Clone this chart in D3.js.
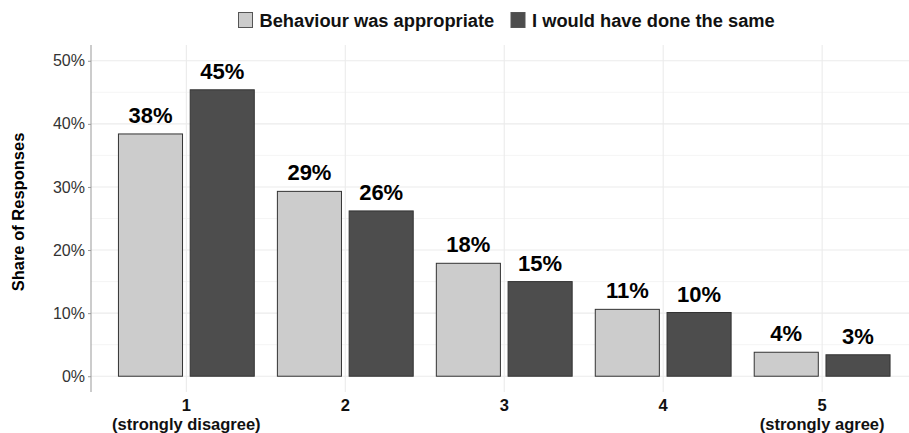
<!DOCTYPE html>
<html>
<head>
<meta charset="utf-8">
<script src="https://cdn.jsdelivr.net/npm/d3@7"></script>
<style>
  body { margin: 0; background: #fff; }
  svg { display: block; font-family: "Liberation Sans", Arial, sans-serif; }
</style>
</head>
<body>
<script>
// data
var categories = ["1", "2", "3", "4", "5"];
var categorySubLabels = ["(strongly disagree)", "", "", "", "(strongly agree)"];
var seriesNames = ["Behaviour was appropriate", "I would have done the same"];
var appropriate = [0.384, 0.293, 0.179, 0.106, 0.038];
var doneSame = [0.454, 0.262, 0.150, 0.101, 0.034];
var yTicks = [0, 0.1, 0.2, 0.3, 0.4, 0.5];
var yMinorTicks = [0.05, 0.15, 0.25, 0.35, 0.45];

var width = 909, height = 433;
var plotLeft = 91, plotRight = 917.5, plotTop = 45, plotBottom = 392;
var fills = ["#cccccc", "#4d4d4d"];

var svg = d3.select("body").append("svg")
    .attr("width", width)
    .attr("height", height);

var x = d3.scaleBand()
    .domain(categories)
    .range([plotLeft, plotRight])
    .paddingInner(0)
    .paddingOuter(0.1);

var xSub = d3.scaleBand()
    .domain(seriesNames)
    .range([0, x.bandwidth()])
    .paddingInner(0.107)
    .paddingOuter(0.161);

var y = d3.scaleLinear()
    .domain([-0.025, 0.525])
    .range([plotBottom, plotTop]);

var pct = d3.format(".0%");

// grid
var grid = svg.append("g");
grid.selectAll(".minor").data(yMinorTicks).enter().append("line")
    .attr("x1", plotLeft).attr("x2", width)
    .attr("y1", function(d) { return y(d); })
    .attr("y2", function(d) { return y(d); })
    .attr("stroke", "#f2f2f2").attr("stroke-width", 0.8);
grid.selectAll(".major").data(yTicks).enter().append("line")
    .attr("x1", plotLeft).attr("x2", width)
    .attr("y1", function(d) { return y(d); })
    .attr("y2", function(d) { return y(d); })
    .attr("stroke", "#ebebeb").attr("stroke-width", 1.1);
grid.selectAll(".vert").data(categories).enter().append("line")
    .attr("x1", function(d) { return x(d) + x.bandwidth() / 2; })
    .attr("x2", function(d) { return x(d) + x.bandwidth() / 2; })
    .attr("y1", plotTop).attr("y2", plotBottom)
    .attr("stroke", "#ebebeb").attr("stroke-width", 1.1);

// bars
var rows = categories.map(function(c, i) {
    return { cat: c, values: [
        { name: seriesNames[0], value: appropriate[i], fill: fills[0] },
        { name: seriesNames[1], value: doneSame[i], fill: fills[1] }
    ] };
});

var groups = svg.selectAll(".grp").data(rows).enter().append("g")
    .attr("transform", function(d) { return "translate(" + x(d.cat) + ",0)"; });

groups.selectAll("rect").data(function(d) { return d.values; }).enter().append("rect")
    .attr("x", function(d) { return xSub(d.name); })
    .attr("width", xSub.bandwidth())
    .attr("y", function(d) { return y(d.value); })
    .attr("height", function(d) { return y(0) - y(d.value); })
    .attr("fill", function(d) { return d.fill; })
    .attr("stroke", "#333333")
    .attr("stroke-width", 1);

groups.selectAll("text").data(function(d) { return d.values; }).enter().append("text")
    .attr("x", function(d) { return xSub(d.name) + xSub.bandwidth() / 2; })
    .attr("y", function(d) { return y(d.value) - 11; })
    .attr("text-anchor", "middle")
    .attr("font-size", "22px")
    .attr("font-weight", "bold")
    .attr("fill", "#000")
    .text(function(d) { return pct(d.value); });

// y axis
var yAxis = svg.append("g")
    .attr("transform", "translate(" + plotLeft + ",0)")
    .call(d3.axisLeft(y).tickValues(yTicks).tickFormat(pct).tickSize(3).tickPadding(3));
yAxis.select(".domain").attr("stroke", "#999").attr("d", "M0," + plotTop + "V" + plotBottom);
yAxis.selectAll(".tick line").attr("stroke", "#999");
yAxis.selectAll(".tick text")
    .attr("font-size", "16px")
    .attr("font-family", "Liberation Sans, Arial, sans-serif")
    .attr("fill", "#333");

svg.append("text")
    .attr("transform", "translate(24,212) rotate(-90)")
    .attr("text-anchor", "middle")
    .attr("font-size", "16.5px")
    .attr("font-weight", "bold")
    .attr("fill", "#000")
    .text("Share of Responses");

// x labels: number on first line, end-point wording under it
var xl = svg.selectAll(".xl").data(categories).enter().append("text")
    .attr("x", function(d) { return x(d) + x.bandwidth() / 2; })
    .attr("y", 411)
    .attr("text-anchor", "middle")
    .attr("font-size", "16.5px")
    .attr("font-weight", "bold")
    .attr("fill", "#111");
xl.append("tspan").text(function(d) { return d; });
xl.append("tspan")
    .attr("x", function(d) { return x(d) + x.bandwidth() / 2; })
    .attr("dy", 18.5)
    .text(function(d, i) { return categorySubLabels[i]; });

// legend
var legendX = [238.5, 511];
var legend = svg.selectAll(".lg").data(seriesNames).enter().append("g")
    .attr("transform", function(d, i) { return "translate(" + legendX[i] + ",12.5)"; });
legend.append("rect")
    .attr("width", 14).attr("height", 15)
    .attr("fill", function(d, i) { return fills[i]; })
    .attr("stroke", "#555").attr("stroke-width", 1);
legend.append("text")
    .attr("x", 21).attr("y", 14)
    .attr("font-size", "18.3px")
    .attr("font-weight", "bold")
    .attr("fill", "#111")
    .text(function(d) { return d; });
</script>
</body>
</html>
